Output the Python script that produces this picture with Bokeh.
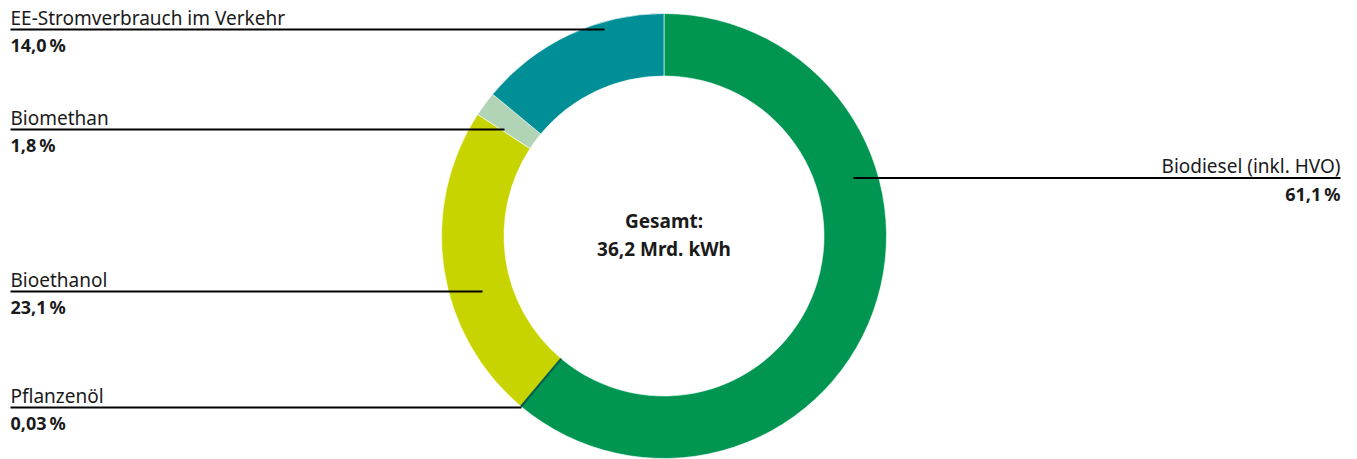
import math
from bokeh.plotting import figure
from bokeh.models import Range1d, ColumnDataSource
from bokeh.core.properties import value
from bokeh.embed import file_html
from bokeh.resources import INLINE

# Data (clockwise from 12 o'clock)
categories = ["Biodiesel (inkl. HVO)", "Pflanzenöl", "Bioethanol", "Biomethan", "EE-Stromverbrauch im Verkehr"]
shares = [61.1, 0.03, 23.1, 1.8, 14.0]
share_labels = ["61,1\u2009%", "0,03\u2009%", "23,1\u2009%", "1,8\u2009%", "14,0\u2009%"]
colors = ["#009651", "#005e50", "#c8d400", "#b2d4b6", "#008f96"]
center_title = "Gesamt:"
center_value = "36,2 Mrd. kWh"

W, H = 1357, 459
cx, cy = 663.5, H - 235.5
r_out, r_in = 222.5, 160
BASE_FIX = 7  # svg baseline offset correction (px)

p = figure(width=W, height=H, x_range=Range1d(0, W), y_range=Range1d(0, H),
           min_border=0, toolbar_location=None, output_backend="svg")
p.axis.visible = False
p.grid.visible = False
p.outline_line_color = None
p.background_fill_color = "white"

total = sum(shares)
starts, ends = [], []
cum = 0.0
for s in shares:
    starts.append(math.pi / 2 - 2 * math.pi * cum / total)
    cum += s
    ends.append(math.pi / 2 - 2 * math.pi * cum / total)

src = ColumnDataSource(dict(start=starts, end=ends, color=colors, cat=categories))
p.annular_wedge(x=cx, y=cy, inner_radius=r_in, outer_radius=r_out,
                start_angle="start", end_angle="end", direction="clock",
                fill_color="color", line_color="white", line_width=0.6, source=src)
# tiny Pflanzenöl slice drawn as visible stroke
i = categories.index("Pflanzenöl")
a = (starts[i] + ends[i]) / 2
p.segment(x0=cx + r_in * math.cos(a), y0=cy + r_in * math.sin(a),
          x1=cx + r_out * math.cos(a), y1=cy + r_out * math.sin(a),
          line_color=colors[i], line_width=2.2)

# label layout: (x_text, y_line_pix, x_line_start, x_line_end, align)
layout = {
    "EE-Stromverbrauch im Verkehr": (10, 29, 10, 604, "left"),
    "Biomethan": (10, 129, 10, 504, "left"),
    "Bioethanol": (10, 291, 10, 482, "left"),
    "Pflanzenöl": (10, 407, 10, 521, "left"),
    "Biodiesel (inkl. HVO)": (1340, 177.5, 853, 1340, "right"),
}
font = "Noto Sans"
for cat, lab in zip(categories, share_labels):
    xt, yl, x0, x1, al = layout[cat]
    y = H - yl
    p.segment(x0=x0, y0=y, x1=x1, y1=y, line_color="black", line_width=2)
    p.text(x=[xt], y=[H - (yl - 5 - BASE_FIX)], text=[cat], text_align=al, text_baseline="alphabetic",
           text_font=value(font), text_font_size="19px", text_color="#1a1a1a")
    p.text(x=[xt], y=[H - (yl + 22.5 - BASE_FIX)], text=[lab], text_align=al, text_baseline="alphabetic",
           text_font=value(font), text_font_size="18px", text_font_style="bold", text_color="#1a1a1a")

p.text(x=[cx], y=[H - (227.5 - BASE_FIX)], text=[center_title], text_align="center", text_baseline="alphabetic",
       text_font=value(font), text_font_size="19px", text_font_style="bold", text_color="#1a1a1a")
p.text(x=[cx], y=[H - (255 - BASE_FIX)], text=[center_value], text_align="center", text_baseline="alphabetic",
       text_font=value(font), text_font_size="19px", text_font_style="bold", text_color="#1a1a1a")

open("out.html", "w").write(file_html(p, INLINE))
